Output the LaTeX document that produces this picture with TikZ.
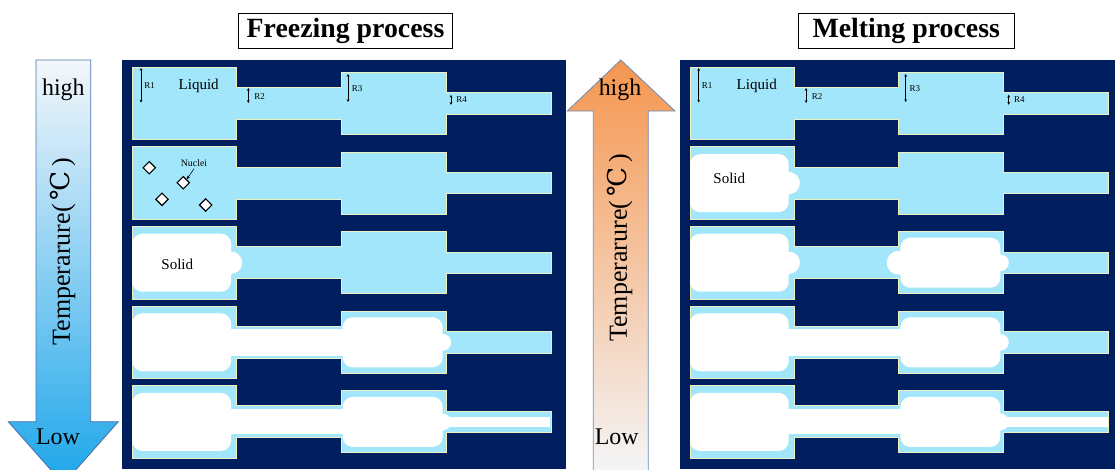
\documentclass[tikz,border=0pt]{standalone}
\usepackage{fontspec}
\setmainfont{Liberation Serif}
\newfontfamily\degfont{DejaVu Serif}
\usepackage{tikz}
\usetikzlibrary{arrows.meta,positioning,shapes.geometric}
\definecolor{navy}{HTML}{011E5E}
\definecolor{liquid}{HTML}{A2E6FB}
\definecolor{rim}{HTML}{EEF0C4}
\definecolor{coldblue}{HTML}{1DA6EA}
\definecolor{warm}{HTML}{F5964F}
\definecolor{pale}{HTML}{F4F7FB}
\definecolor{arrowrim}{HTML}{4A72A8}
% stepped channel R1-R2-R3-R4, left end at #1, axis at #2
\newcommand{\channel}[2]{
  \begin{scope}[shift={(#1,#2)}]
    \draw[wall] (0,-36.3) -- (104,-36.3) -- (104,-16) -- (208.7,-16) -- (208.7,-31)
      -- (313.7,-31) -- (313.7,-10.7) -- (418.7,-10.7) -- (418.7,10.7) -- (313.7,10.7)
      -- (313.7,31) -- (208.7,31) -- (208.7,16) -- (104,16) -- (104,36.3) -- (0,36.3) -- cycle;
  \end{scope}
}
% solid block in the R1 chamber, bulging into the neck
\newcommand{\blockone}[2]{
  \begin{scope}[shift={(#1,#2)}]
    \fill[frozen] (0,-29) rectangle (98.7,29);
    \fill[white] (98.7,0) circle[radius=0.28cm];
  \end{scope}
}
% solid block in the R3 chamber
\newcommand{\blocktwo}[2]{
  \begin{scope}[shift={(#1,#2)}]
    \fill[frozen] (210.4,-25) rectangle (310.4,25);
    \fill[white] (310.4,0) circle[radius=0.21cm];
  \end{scope}
}
\newcommand{\bridge}[3]{
  \begin{scope}[shift={(#1,#2)}]
    \fill[white] (96,-#3) rectangle (213,#3);
  \end{scope}
}
\newcommand{\tail}[2]{
  \begin{scope}[shift={(#1,#2)}]
    \fill[white] (308,-5.2) rectangle (417.7,5.2);
  \end{scope}
}
% radius markers of the first row
\newcommand{\radii}[3]{
  \begin{scope}[shift={(#2,#3)}]
    \coordinate (#1a1) at (8.7,-35.5);  \coordinate (#1b1) at (8.7,-1);
    \coordinate (#1a2) at (116,-15.5);  \coordinate (#1b2) at (116,-0.5);
    \coordinate (#1a3) at (215.7,-29.5); \coordinate (#1b3) at (215.7,-1.5);
    \coordinate (#1a4) at (318.7,-8.7); \coordinate (#1b4) at (318.7,1.3);
    \foreach \i in {1,2,3,4}
      \draw[dim] (#1a\i) -- (#1b\i);
    \node[rlabel] (#1r1) at (11.7,-18) {R1};
    \node[rlabel] (#1r2) at (121.7,-7) {R2};
    \node[rlabel] (#1r3) at (219.4,-15.4) {R3};
    \node[rlabel] (#1r4) at (323.7,-3.7) {R4};
  \end{scope}
}

\begin{document}
\begin{tikzpicture}[x=0.025cm,y=-0.025cm,
    wall/.style={fill=liquid,draw=rim,line width=0.7pt},
    frozen/.style={fill=white,rounded corners=0.25cm},
    dim/.style={{Stealth[length=2pt,width=2pt]}-{Stealth[length=2pt,width=2pt]},line width=0.4pt},
    rlabel/.style={anchor=west,inner sep=0pt,font=\fontsize{6.4}{7}\selectfont},
    phase/.style={inner sep=0pt,font=\fontsize{10.7}{12}\selectfont},
    seed/.style={diamond,draw=black,fill=white,line width=0.8pt,inner sep=0pt,minimum size=0.32cm},
    titlebox/.style={draw=black,line width=0.6pt,minimum height=0.875cm,inner sep=0pt,
      font=\fontsize{19.8}{22}\selectfont\bfseries},
    templabel/.style={inner sep=0pt,font=\fontsize{17}{19}\selectfont},
    tempaxis/.style={inner sep=0pt,rotate=90,font=\fontsize{18.5}{20}\selectfont},
    bigarrow/.style={draw=arrowrim,line width=0.6pt}]
  \useasboundingbox (0,0) rectangle (1115,469);
  \clip (0,0) rectangle (1115,469);

  % two panels
  \fill[navy] (122,60) rectangle (566,469);
  \fill[navy] (680,60) rectangle (1124,469);
  \foreach \y in {103.5,183.1,262.7,342.3,421.9} {
    \channel{132.3}{\y}
    \channel{690}{\y}
  }

  % freezing
  \radii{fz}{132.3}{103.5}
  \node[phase] (fzliquid) at (198.7,86) {Liquid};
  \node[seed] (n1) at (149.3,167.7) {};
  \node[seed] (n2) at (183.3,182.7) {};
  \node[seed] (n3) at (162,199.3) {};
  \node[seed] (n4) at (205.7,205) {};
  \node[inner sep=0pt,font=\fontsize{7}{8}\selectfont] (nuclei) at (194,163.5) {Nuclei};
  \draw[-{Stealth[length=2.5pt,width=2pt]},line width=0.4pt] (nuclei.south) ++(0,1.5) -- (n2.north east);
  \blockone{132.3}{262.7}
  \node[phase] (fzsolid) at (177.3,264) {Solid};
  \blockone{132.3}{342.3}
  \bridge{132.3}{342.3}{13.5}
  \blocktwo{132.3}{342.3}
  \blockone{132.3}{421.9}
  \bridge{132.3}{421.9}{12.5}
  \blocktwo{132.3}{421.9}
  \tail{132.3}{421.9}

  % melting
  \radii{mt}{690}{103.5}
  \node[phase] (mtliquid) at (756.7,86) {Liquid};
  \blockone{690}{183.1}
  \node[phase] (mtsolid) at (729.3,178.3) {Solid};
  \blockone{690}{262.7}
  \blocktwo{690}{262.7}
  \fill[white] (898.7,262.7) circle[radius=0.3cm];
  \blockone{690}{342.3}
  \bridge{690}{342.3}{13.5}
  \blocktwo{690}{342.3}
  \blockone{690}{421.9}
  \bridge{690}{421.9}{12.5}
  \blocktwo{690}{421.9}
  \tail{690}{421.9}

  % temperature arrows
  \shadedraw[bigarrow,top color=pale,bottom color=coldblue]
    (36,60) -- (90.7,60) -- (90.7,421.7) -- (118.3,421.7) -- (63.3,484)
    -- (8.3,421.7) -- (36,421.7) -- cycle;
  \node[templabel] (coldhigh) at (63.3,89.3) {high};
  \node[templabel] (coldlow) at (58,436.7) {Low};
  \node[tempaxis] (coldtemp) at (63,251.7) {Temperarure({\degfont\,℃\,})};

  \shadedraw[bigarrow,draw=arrowrim!80,top color=warm,bottom color=pale]
    (593.3,480) -- (593.3,111) -- (567.3,111) -- (620.8,60) -- (675,111)
    -- (648.3,111) -- (648.3,480) -- cycle;
  \node[templabel] (warmhigh) at (620,89.3) {high};
  \node[templabel] (warmlow) at (616.7,436.7) {Low};
  \node[tempaxis] (warmtemp) at (620,248) {Temperarure({\degfont\,℃\,})};

  % titles
  \node[titlebox,minimum width=5.36cm] (freezetitle) at (345.5,30.8) {Freezing process};
  \node[titlebox,minimum width=5.39cm] (melttitle) at (906.2,30.8) {Melting process};
\end{tikzpicture}
\end{document}
